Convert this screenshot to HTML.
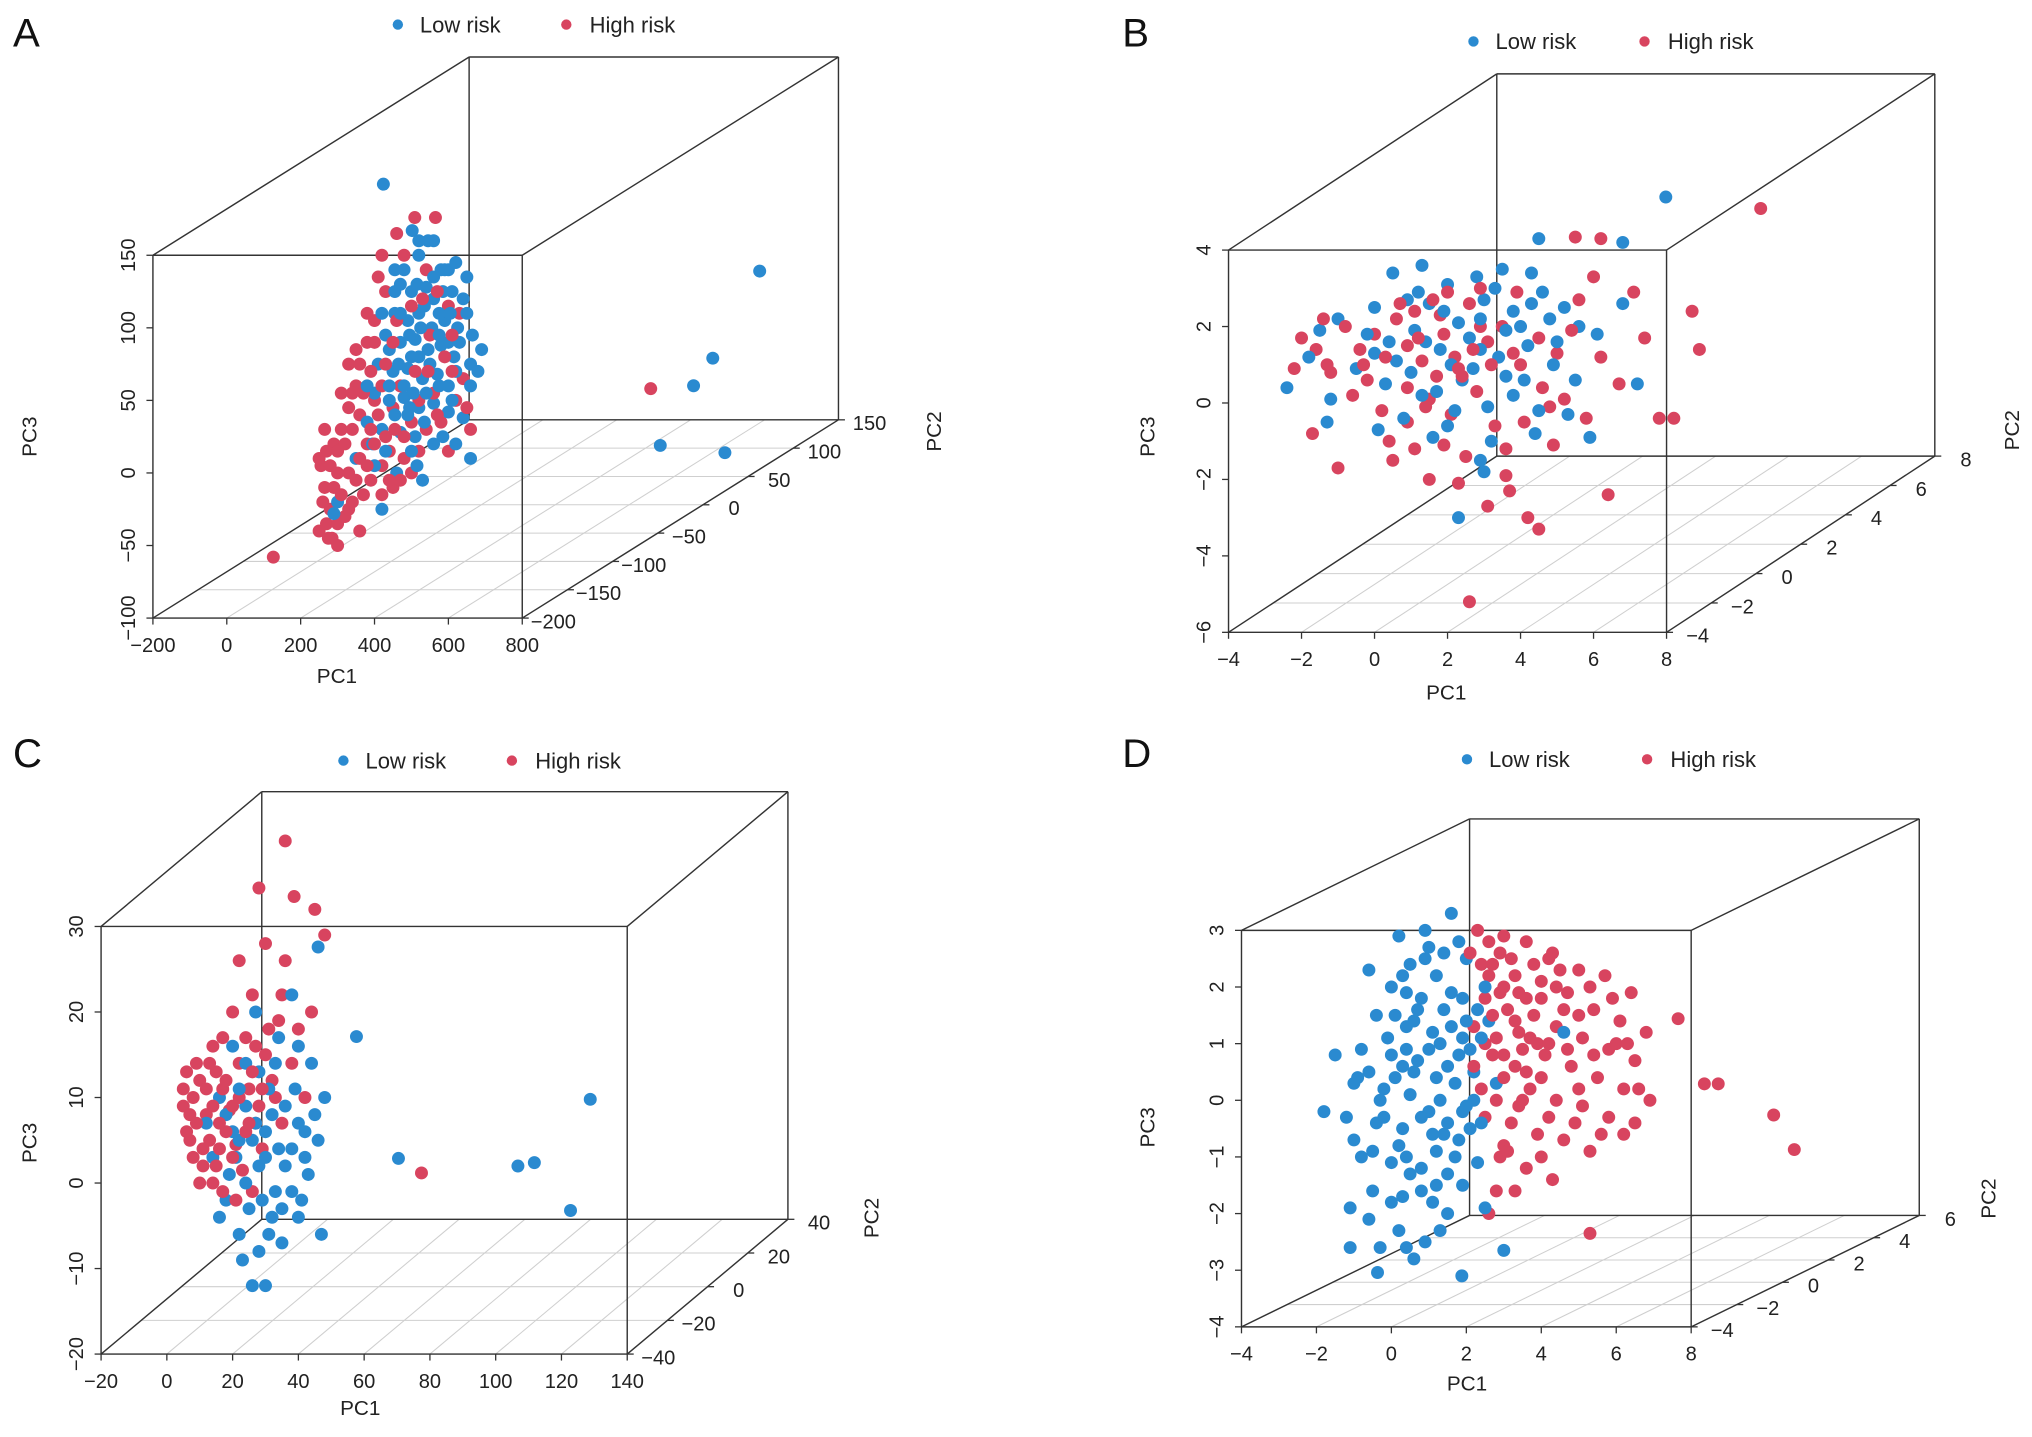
<!DOCTYPE html>
<html><head><meta charset="utf-8">
<style>
html,body{margin:0;padding:0;background:#fff;}
svg{display:block;font-family:"Liberation Sans",Arial,sans-serif;}
</style></head>
<body>
<svg id="fig" width="2032" height="1437" viewBox="0 0 1568 1109" preserveAspectRatio="none" xmlns="http://www.w3.org/2000/svg"></svg>
<script>
// ---------- Data ----------
// Panel A
const aPC1Ticks=[-200,0,200,400,600,800];
const aPC2Ticks=[-200,-150,-100,-50,0,50,100,150];
const aPC3Ticks=[-100,-50,0,50,100,150];
const aBlue=[[424,-200,199],[502,-200,167],[520,-200,150],[545,-200,160],[580,-200,140],[600,-200,140],[470,-200,130],[500,-200,125],[540,-200,128],[560,-200,120],[610,-200,125],[640,-200,120],[650,-200,135],[455,-200,110],[490,-200,105],[520,-200,110],[555,-200,100],[590,-200,105],[625,-200,100],[430,-200,95],[470,-200,90],[510,-200,92],[545,-200,85],[580,-200,88],[615,-200,80],[660,-200,75],[680,-200,70],[410,-200,75],[450,-200,70],[490,-200,72],[530,-200,65],[570,-200,68],[600,-200,60],[400,-200,55],[440,-200,50],[480,-200,52],[520,-200,45],[560,-200,48],[600,-200,42],[640,-200,38],[380,-200,35],[420,-200,30],[470,-200,28],[510,-200,25],[560,-200,20],[620,-200,20],[660,-200,10],[350,-200,10],[400,-200,5],[460,-200,0],[300,-200,-20],[290,-200,-28],[420,-200,-25],[530,-200,-5],[490,-200,40],[455,-200,140],[575,-200,110],[660,-200,60],[395,-200,20],[520,-200,80],[709,100,22],[582,100,-38],[530,100,-57],[660,10,-63],[835,10,-68],
[470,-200,110],[495,-200,95],[515,-200,130],[535,-200,115],[560,-200,135],[585,-200,125],[605,-200,110],[630,-200,90],[650,-200,110],[440,-200,85],[465,-200,75],[500,-200,80],[525,-200,100],[550,-200,75],[575,-200,95],[600,-200,90],[620,-200,70],[480,-200,60],[505,-200,55],[540,-200,55],[575,-200,60],[610,-200,50],[455,-200,40],[500,-200,15],[535,-200,35],[585,-200,25],[430,-200,15],[380,-200,60],[420,-200,110],[480,-200,140],[520,-200,160],[620,-200,145],[665,-200,95],[690,-200,85],[440,-200,60],[560,-200,160],[495,-200,45],[455,-200,125],[590,-200,140],[515,-200,5]];
const aRed=[[509,-200,176],[565,-200,176],[480,-200,150],[430,-200,125],[400,-200,105],[380,-200,90],[360,-200,75],[350,-200,60],[330,-200,45],[310,-200,30],[290,-200,20],[270,-200,15],[255,-200,5],[250,-200,10],[265,-200,-10],[280,-200,-25],[270,-200,-35],[300,-200,-35],[320,-200,-30],[340,-200,-20],[370,-200,-15],[390,-200,-5],[420,-200,5],[440,-200,15],[380,-200,20],[330,-200,0],[360,-200,40],[400,-200,50],[450,-200,45],[500,-200,35],[540,-200,30],[580,-200,35],[620,-200,50],[660,-200,30],[600,-200,15],[430,-200,75],[470,-200,60],[510,-200,70],[550,-200,95],[590,-200,80],[630,-200,110],[460,-200,105],[500,-200,115],[540,-200,140],[410,-200,135],[380,-200,110],[340,-200,55],[300,-200,0],[420,-200,-15],[480,-200,10],[520,-200,15],[640,-200,65],[600,-200,115],[560,-200,55],[310,-200,55],[250,-200,-40],[285,-200,-45],[126,-200,-58],[450,-200,-10],[360,-200,-40],[414,100,-59],
[280,-200,5],[300,-200,15],[320,-200,20],[340,-200,30],[360,-200,10],[390,-200,30],[410,-200,40],[430,-200,25],[350,-200,-5],[380,-200,5],[400,-200,20],[310,-200,-15],[330,-200,-25],[290,-200,-10],[260,-200,-20],[275,-200,-45],[300,-200,-50],[455,-200,30],[480,-200,25],[520,-200,50],[545,-200,70],[570,-200,40],[610,-200,70],[650,-200,45],[420,-200,60],[450,-200,90],[390,-200,70],[370,-200,55],[470,-200,-5],[500,-200,0],[440,-200,-5],[350,-200,85],[400,-200,90],[420,-200,150],[460,-200,165],[530,-200,120],[570,-200,125],[610,-200,95],[330,-200,75],[265,-200,30]];
// Panel B
const bPC1Ticks=[-4,-2,0,2,4,6,8];
const bPC2Ticks=[-4,-2,0,2,4,6,8];
const bPC3Ticks=[-6,-4,-2,0,2,4];
const bBlue=[[2.1,5.6,1.7],[-2.4,-4,0.4],[-1.5,-4,1.9],[-1,-4,2.2],[0,-4,2.5],[0.5,-4,3.4],[1.3,-4,3.6],[2,-4,3.1],[2.8,-4,3.3],[3.5,-4,3.5],[4.3,-4,3.4],[1.5,-4,2.6],[2.3,-4,2.1],[3,-4,2.7],[3.8,-4,2.4],[4.6,-4,2.9],[5.2,-4,2.5],[5.6,-4,2.0],[6.1,-4,1.8],[0.4,-4,1.6],[1.1,-4,1.9],[1.8,-4,1.4],[2.6,-4,1.7],[3.4,-4,1.2],[4.2,-4,1.5],[4.9,-4,1.0],[5.5,-4,0.6],[-0.5,-4,0.9],[0.3,-4,0.5],[1,-4,0.8],[1.7,-4,0.3],[2.4,-4,0.6],[3.1,-4,-0.1],[3.8,-4,0.2],[4.5,-4,-0.2],[5.3,-4,-0.3],[-1.2,-4,0.1],[0.8,-4,-0.4],[2,-4,-0.6],[3.2,-4,-1.0],[4.4,-4,-0.8],[2.9,-4,-1.5],[2.3,-4,-3.0],[6.8,-4,2.6],[7.2,-4,0.5],[1.2,-4,2.9],[2.7,-4,0.9],[0,-4,1.3],[3.6,-4,1.9],[4.8,-4,2.2],
[0.9,-4,2.7],[1.9,-4,2.4],[2.9,-4,2.2],[3.3,-4,3.0],[4.0,-4,2.0],[0.6,-4,1.1],[1.4,-4,1.6],[2.1,-4,1.0],[2.9,-4,1.4],[3.6,-4,0.7],[-0.2,-4,1.8],[-1.8,-4,1.2],[1.3,-4,0.2],[2.2,-4,-0.2],[4.1,-4,0.6],[5.0,-4,1.6],[0.1,-4,-0.7],[1.6,-4,-0.9],[5.9,-4,-0.9],[4.3,-4,2.6],[4.5,-4,4.3],[6.8,-4,4.2],[-1.3,-4,-0.5],[3.0,-4,-1.8]];
const bRed=[[4.7,5.6,1.4],[-2,-4,1.7],[-1.6,-4,1.4],[-1.2,-4,0.8],[-0.6,-4,0.2],[-2.2,-4,0.9],[-0.8,-4,2.0],[0,-4,1.8],[0.6,-4,2.2],[1.3,-4,1.1],[1.8,-4,2.3],[2.2,-4,1.2],[2.6,-4,2.6],[3.1,-4,1.6],[3.5,-4,2.0],[4,-4,1.0],[4.5,-4,1.7],[5,-4,1.3],[5.4,-4,1.9],[6.2,-4,1.2],[6.7,-4,0.5],[7.4,-4,1.7],[0.2,-4,-0.2],[0.9,-4,-0.5],[1.5,-4,0.1],[2.1,-4,-0.3],[2.8,-4,0.3],[3.3,-4,-0.6],[4.1,-4,-0.5],[4.8,-4,-0.1],[5.8,-4,-0.4],[-1.7,-4,-0.8],[0.4,-4,-1.0],[1.1,-4,-1.2],[1.9,-4,-1.1],[2.5,-4,-1.4],[3.6,-4,-1.2],[4.9,-4,-1.1],[-1.0,-4,-1.7],[3.1,-4,-2.7],[3.7,-4,-2.3],[4.5,-4,-3.3],[6.4,-4,-2.4],[2.6,-4,-5.2],[4.2,-4,-3.0],[7.8,-4,-0.4],[1.6,-4,2.7],[2.4,-4,0.7],[3.8,-4,1.3],[0.9,-4,1.5],[-0.3,-4,1.0],[1.4,-4,-0.1],[2.9,-4,2.0],[5.6,-4,2.7],
[5.5,-4,4.34],[6.2,-4,4.3],[8.7,-4,2.4],[8.9,-4,1.4],[8.2,-4,-0.4],[7.1,-4,2.9],[-1.4,-4,2.2],[-0.4,-4,1.4],[0.3,-4,1.2],[0.7,-4,2.6],[1.2,-4,1.7],[1.9,-4,1.8],[2.3,-4,0.9],[2.7,-4,1.4],[1.7,-4,0.7],[0.9,-4,0.4],[-0.2,-4,0.6],[3.2,-4,1.0],[1.1,-4,2.4],[2.0,-4,2.9],[2.9,-4,3.0],[3.9,-4,2.9],[4.6,-4,0.4],[5.2,-4,0.1],[-1.3,-4,1.0],[0.5,-4,-1.5],[1.5,-4,-2.0],[3.6,-4,-1.9],[2.3,-4,-2.1],[6.0,-4,3.3]];
// Panel C
const cPC1Ticks=[-20,0,20,40,60,80,100,120,140];
const cPC2Ticks=[-40,-20,0,20,40];
const cPC3Ticks=[-20,-10,0,10,20,30];
const cRed=[[36,-40,40],[28,-40,34.5],[38.7,-40,33.5],[45,-40,32],[48,-40,29],[30,-40,28],[22,-40,26],[26,-40,22],[35,-40,22],[20,-40,20],[31,-40,18],[40,-40,18],[14,-40,16],[22,-40,14],[30,-40,15],[38,-40,14],[10,-40,12],[17,-40,11],[25,-40,11],[33,-40,10],[42,-40,10],[5,-40,9],[12,-40,8],[19,-40,8.5],[27,-40,7],[35,-40,7],[6,-40,6],[13,-40,5],[21,-40,4.5],[29,-40,4],[8,-40,3],[15,-40,2],[23,-40,1.5],[10,-40,0],[17,-40,-1],[26,-40,-1],[5,-40,11],[9,-40,14],[15,-40,13],[24,-40,17],[36,-40,26],[44,-40,20],[53,0,-6.7],[18,-40,6],[32,-40,12],[11,-40,4],[7,-40,8],[14,-40,9],[20,-40,3],
[8,-40,10],[12,-40,11],[16,-40,7],[20,-40,9],[24,-40,6],[28,-40,9],[7,-40,5],[11,-40,2],[18,-40,12],[22,-40,10],[26,-40,13],[6,-40,13],[13,-40,14],[17,-40,17],[27,-40,16],[34,-40,19],[16,-40,4],[9,-40,7],[14,-40,0],[21,-40,-2],[25,-40,7],[29,-40,11]];
const cBlue=[[46,-40,27.6],[43,-16,12.4],[46,0,-5],[86,30,-4],[69,30,-11.4],[64,30,-11.8],[80,30,-17],[47,-40,-6],[40,-40,-4],[30,-40,-12],[38,-40,22],[34,-40,17],[44,-40,14],[48,-40,10],[28,-40,13],[20,-40,16],[16,-40,10],[24,-40,9],[32,-40,8],[40,-40,7],[46,-40,5],[14,-40,3],[21,-40,3],[28,-40,2],[36,-40,2],[43,-40,1],[18,-40,-2],[25,-40,-3],[32,-40,-4],[38,-40,-1],[22,-40,-6],[28,-40,-8],[35,-40,-7],[26,-40,-12],[20,-40,6],[30,-40,6],[39,-40,11],[12,-40,7],[24,-40,14],[33,-40,-1],[42,-40,3],[27,-40,20],
[18,-40,8],[22,-40,5],[26,-40,5],[30,-40,3],[34,-40,4],[24,-40,0],[29,-40,-2],[35,-40,-3],[41,-40,-2],[19,-40,1],[16,-40,-4],[23,-40,-9],[31,-40,11],[36,-40,9],[42,-40,6],[27,-40,7],[33,-40,14],[40,-40,16],[22,-40,11],[38,-40,4],[45,-40,8],[31,-40,-6]];
// Panel D
const dPC1Ticks=[-4,-2,0,2,4,6,8];
const dPC2Ticks=[-4,-2,0,2,4,6];
const dPC3Ticks=[-4,-3,-2,-1,0,1,2,3];
const dBlue=[[1.6,-4,3.3],[0.2,-4,2.9],[0.9,-4,3.0],[1.4,-4,2.6],[0.5,-4,2.4],[1.2,-4,2.2],[2.0,-4,2.5],[0.0,-4,2.0],[0.8,-4,1.8],[1.6,-4,1.9],[2.3,-4,1.6],[-0.4,-4,1.5],[0.4,-4,1.3],[1.1,-4,1.2],[1.9,-4,1.1],[2.6,-4,1.4],[-0.8,-4,0.9],[0.0,-4,0.8],[0.7,-4,0.7],[1.5,-4,0.6],[2.2,-4,0.5],[-1.0,-4,0.3],[-0.2,-4,0.2],[0.5,-4,0.1],[1.3,-4,0.0],[2.0,-4,-0.1],[2.8,-4,0.3],[-1.2,-4,-0.3],[-0.4,-4,-0.4],[0.3,-4,-0.5],[1.1,-4,-0.6],[1.8,-4,-0.7],[-0.8,-4,-1.0],[0.0,-4,-1.1],[0.8,-4,-1.2],[1.5,-4,-1.3],[-0.5,-4,-1.6],[0.3,-4,-1.7],[1.1,-4,-1.8],[-0.6,-4,-2.1],[0.2,-4,-2.3],[0.9,-4,-2.5],[-0.3,-4,-2.6],[-0.37,-4,-3.04],[1.88,-4,-3.1],[3.0,-4,-2.65],[2.5,-4,-1.9],[4.6,-4,1.2],[-1.5,-4,0.8],[-1.8,-4,-0.2],[1.9,-4,-1.5],[0.6,-4,-2.8],[0.4,-4,1.9],[1.7,-4,0.3],[0.6,-4,0.5],[1.0,-4,-0.2],[1.4,-4,1.6],[0.2,-4,-0.8],[1.7,-4,-1.0],[-0.1,-4,1.1],[0.9,-4,2.5],[2.1,-4,0.9],[1.2,-4,-1.5],[-1.0,-4,-0.7],[0.5,-4,-1.3],[1.9,-4,1.8],[2.4,-4,-0.4],[-0.6,-4,0.5],[1.0,-4,0.9],[0.3,-4,2.2],
[0.1,-4,1.5],[0.6,-4,1.4],[1.3,-4,1.0],[1.8,-4,0.8],[0.4,-4,0.9],[-0.3,-4,0.0],[0.8,-4,-0.3],[1.5,-4,-0.4],[2.1,-4,-0.5],[1.2,-4,0.4],[0.1,-4,0.4],[-0.5,-4,-0.9],[0.4,-4,-1.0],[1.2,-4,-0.9],[1.9,-4,-0.2],[2.4,-4,1.1],[2.5,-4,2.0],[1.0,-4,2.7],[1.8,-4,2.8],[-0.6,-4,2.3],[0.0,-4,-1.8],[0.8,-4,-1.6],[1.5,-4,-2.0],[-1.1,-4,-1.9],[-1.1,-4,-2.6],[0.4,-4,-2.6],[1.3,-4,-2.3],[2.2,-4,0.0],[1.6,-4,1.3],[0.7,-4,1.6],[-0.2,-4,-0.3],[2.3,-4,-1.1],[0.3,-4,0.6],[1.4,-4,-0.6],[-0.9,-4,0.4],[2.0,-4,1.4]];
const dRed=[[2.3,-4,3.0],[3.0,-4,2.9],[3.6,-4,2.8],[4.3,-4,2.6],[5.0,-4,2.3],[5.7,-4,2.2],[6.4,-4,1.9],[2.7,-4,2.4],[3.3,-4,2.2],[4.0,-4,2.1],[4.7,-4,1.9],[5.4,-4,1.6],[6.1,-4,1.4],[6.8,-4,1.2],[2.5,-4,1.8],[3.1,-4,1.6],[3.8,-4,1.5],[4.4,-4,1.3],[5.1,-4,1.1],[5.8,-4,0.9],[6.5,-4,0.7],[2.8,-4,1.1],[3.5,-4,0.9],[4.1,-4,0.8],[4.8,-4,0.6],[5.5,-4,0.4],[6.2,-4,0.2],[3.0,-4,0.4],[3.7,-4,0.2],[4.4,-4,0.0],[5.1,-4,-0.1],[5.8,-4,-0.3],[6.5,-4,-0.4],[3.2,-4,-0.4],[3.9,-4,-0.6],[4.6,-4,-0.7],[5.3,-4,-0.9],[2.9,-4,-1.0],[3.6,-4,-1.2],[4.3,-4,-1.4],[2.8,-4,-1.6],[2.6,-4,-2.0],[5.3,-4,-2.35],[2.1,-4,2.6],[2.2,-4,1.3],[2.4,-4,0.2],[6.9,-4,0.0],[4.2,-4,2.5],[3.4,-4,1.2],[5.0,-4,0.2],[2.6,-4,2.8],[3.2,-4,2.5],[2.9,-4,1.9],[3.6,-4,1.8],[2.7,-4,0.8],[3.3,-4,0.6],[2.5,-4,-0.3],[3.9,-4,1.0],[4.5,-4,2.3],[3.0,-4,-0.8],[7.1,2,-2.05],[6.55,2,-1.44],[5.07,2,-0.89],[4.7,2,-0.89],[4.0,2,0.26],
[2.6,-4,2.2],[3.0,-4,2.0],[3.4,-4,1.9],[2.7,-4,1.5],[3.3,-4,1.4],[2.5,-4,1.0],[3.0,-4,0.8],[3.6,-4,0.5],[2.8,-4,0.0],[3.4,-4,-0.1],[4.0,-4,0.4],[4.2,-4,1.0],[4.6,-4,1.6],[5.3,-4,2.0],[5.9,-4,1.8],[6.0,-4,1.0],[5.6,-4,-0.6],[6.2,-4,-0.6],[4.9,-4,-0.4],[4.0,-4,-1.0],[3.3,-4,-1.6],[3.1,-4,-0.9],[2.4,-4,2.4],[2.9,-4,2.6],[3.8,-4,2.4],[4.4,-4,2.0],[5.0,-4,1.5],[4.0,-4,1.8],[3.7,-4,1.1],[4.7,-4,0.9],[5.4,-4,0.8],[6.3,-4,1.0],[3.5,-4,0.0],[4.2,-4,-0.3],[6.6,-4,0.2],[2.2,-4,0.6]];

// ---------- Rendering ----------
const NS="http://www.w3.org/2000/svg";
const svg=document.getElementById('fig');
function el(tag,attrs,parent,text){const e=document.createElementNS(NS,tag);for(const k in attrs)e.setAttribute(k,attrs[k]);if(text!==undefined)e.textContent=text;(parent||svg).appendChild(e);return e;}
const BLUE="#2a8ad0",RED="#d8445f";

const panels=[
 {id:'a',letter:'A',lx:10,ly:36,ox:118,oy:477,W:285,H:280,dx:244,dy:-153,x:[-200,800],y:[-200,150],z:[-100,150],xt:aPC1Ticks,yt:aPC2Ticks,zt:aPC3Ticks,blue:aBlue,red:aRed,leg:[307,19,437],pc1:[260,527],pc3:[22,337],pc2:[720,333]},
 {id:'b',letter:'B',lx:866,ly:36,ox:948,oy:488,W:338,H:295,dx:207,dy:-136,x:[-4,8],y:[-4,8],z:[-6,4],xt:bPC1Ticks,yt:bPC2Ticks,zt:bPC3Ticks,blue:bBlue,red:bRed,leg:[1137,32,1269],pc1:[1116,540],pc3:[885,337],pc2:[1552,332]},
 {id:'c',letter:'C',lx:10,ly:592,ox:78,oy:1045,W:406,H:330,dx:124,dy:-104,x:[-20,140],y:[-40,40],z:[-20,30],xt:cPC1Ticks,yt:cPC2Ticks,zt:cPC3Ticks,blue:cBlue,red:cRed,leg:[265,587,395],pc1:[278,1092],pc3:[22,882],pc2:[672,940]},
 {id:'d',letter:'D',lx:866,ly:592,ox:958,oy:1024,W:347,H:306,dx:176,dy:-86,x:[-4,8],y:[-4,6],z:[-4,3],xt:dPC1Ticks,yt:dPC2Ticks,zt:dPC3Ticks,blue:dBlue,red:dRed,leg:[1132,586,1271],pc1:[1132,1073],pc3:[885,870],pc2:[1534,925]}
];

panels.forEach(p=>{
  const g=el('g',{},svg);
  
  
  const fx=v=>(v-p.x[0])/(p.x[1]-p.x[0]);
  const fy=v=>(v-p.y[0])/(p.y[1]-p.y[0]);
  const fz=v=>(v-p.z[0])/(p.z[1]-p.z[0]);
  const proj=(a,b,c)=>[p.ox+p.W*fx(a)+p.dx*fy(b), p.oy-p.H*fz(c)+p.dy*fy(b)];
  const grid=el('g',{stroke:'#cfcfcf','stroke-width':0.8},g);
  
  
  p.xt.forEach(t=>{const a=proj(t,p.y[0],p.z[0]),b=proj(t,p.y[1],p.z[0]);el('line',{x1:a[0],y1:a[1],x2:b[0],y2:b[1]},grid);});
  p.yt.forEach(t=>{const a=proj(p.x[0],t,p.z[0]),b=proj(p.x[1],t,p.z[0]);el('line',{x1:a[0],y1:a[1],x2:b[0],y2:b[1]},grid);});
  const box=el('g',{stroke:'#333','stroke-width':1.1,fill:'none'},g);
  
  
  const X=p.x,Y=p.y,Z=p.z;
  const edges=[
   [[X[0],Y[0],Z[0]],[X[1],Y[0],Z[0]]],[[X[0],Y[0],Z[1]],[X[1],Y[0],Z[1]]],[[X[0],Y[0],Z[0]],[X[0],Y[0],Z[1]]],[[X[1],Y[0],Z[0]],[X[1],Y[0],Z[1]]],
   [[X[0],Y[1],Z[0]],[X[1],Y[1],Z[0]]],[[X[0],Y[1],Z[1]],[X[1],Y[1],Z[1]]],[[X[0],Y[1],Z[0]],[X[0],Y[1],Z[1]]],[[X[1],Y[1],Z[0]],[X[1],Y[1],Z[1]]],
   [[X[0],Y[0],Z[0]],[X[0],Y[1],Z[0]]],[[X[1],Y[0],Z[0]],[X[1],Y[1],Z[0]]],[[X[0],Y[0],Z[1]],[X[0],Y[1],Z[1]]],[[X[1],Y[0],Z[1]],[X[1],Y[1],Z[1]]]];
  edges.forEach(e=>{const a=proj(...e[0]),b=proj(...e[1]);el('line',{x1:a[0],y1:a[1],x2:b[0],y2:b[1]},box);});
  const tk=el('g',{stroke:'#333','stroke-width':1},g);
  const tl=el('g',{fill:'#222','font-size':15.5},g);
  
  
  p.xt.forEach(t=>{const a=proj(t,p.y[0],p.z[0]);el('line',{x1:a[0],y1:a[1],x2:a[0],y2:a[1]+5},tk);
    el('text',{x:a[0],y:a[1]+26,'text-anchor':'middle'},tl,String(t).replace('-','\u2212'));});
  p.zt.forEach(t=>{const a=proj(p.x[0],p.y[0],t);el('line',{x1:a[0],y1:a[1],x2:a[0]-5,y2:a[1]},tk);
    el('text',{x:0,y:0,'text-anchor':'middle',transform:`translate(${a[0]-14},${a[1]}) rotate(-90)`},tl,String(t).replace('-','\u2212'));});
  p.yt.forEach(t=>{const a=proj(p.x[1],t,p.z[0]);el('line',{x1:a[0],y1:a[1],x2:a[0]+5,y2:a[1]},tk);
    el('text',{x:a[0]+24,y:a[1]+8,'text-anchor':'middle'},tl,String(t).replace('-','\u2212'));});
  const t1=el('text',{x:p.pc1[0],y:p.pc1[1],'font-size':16,fill:'#222','text-anchor':'middle'},g,'PC1');
  
  
  const t3=el('text',{x:0,y:0,'font-size':16,fill:'#222','text-anchor':'middle',transform:`translate(${p.pc3[0]+6},${p.pc3[1]}) rotate(-90)`},g,'PC3');
  
  
  const t2=el('text',{x:0,y:0,'font-size':16,fill:'#222','text-anchor':'middle',transform:`translate(${p.pc2[0]+6},${p.pc2[1]}) rotate(-90)`},g,'PC2');
  
  
  const pts=el('g',{},g);
  
  
  const order=[];const n=Math.max(p.blue.length,p.red.length);
  for(let i=0;i<n;i++){if(i<p.red.length)order.push([p.red[i],RED,'high']);if(i<p.blue.length)order.push([p.blue[i],BLUE,'low']);}
  order.forEach(([d,col,k])=>{const q=proj(d[0],d[1],d[2]);
    const c=el('circle',{cx:q[0],cy:q[1],r:5,fill:col},pts);
    
    });
  const lg=el('g',{},g);
  
  
  el('circle',{cx:p.leg[0],cy:p.leg[1],r:4,fill:BLUE},lg);
  el('text',{x:p.leg[0]+17,y:p.leg[1]+6,'font-size':17,fill:'#222'},lg,'Low risk');
  el('circle',{cx:p.leg[2],cy:p.leg[1],r:4,fill:RED},lg);
  el('text',{x:p.leg[2]+18,y:p.leg[1]+6,'font-size':17,fill:'#222'},lg,'High risk');
  const L=el('text',{x:p.lx,y:p.ly,'font-size':31,fill:'#111'},g,p.letter);
  
  
});
</script>
</body></html>
